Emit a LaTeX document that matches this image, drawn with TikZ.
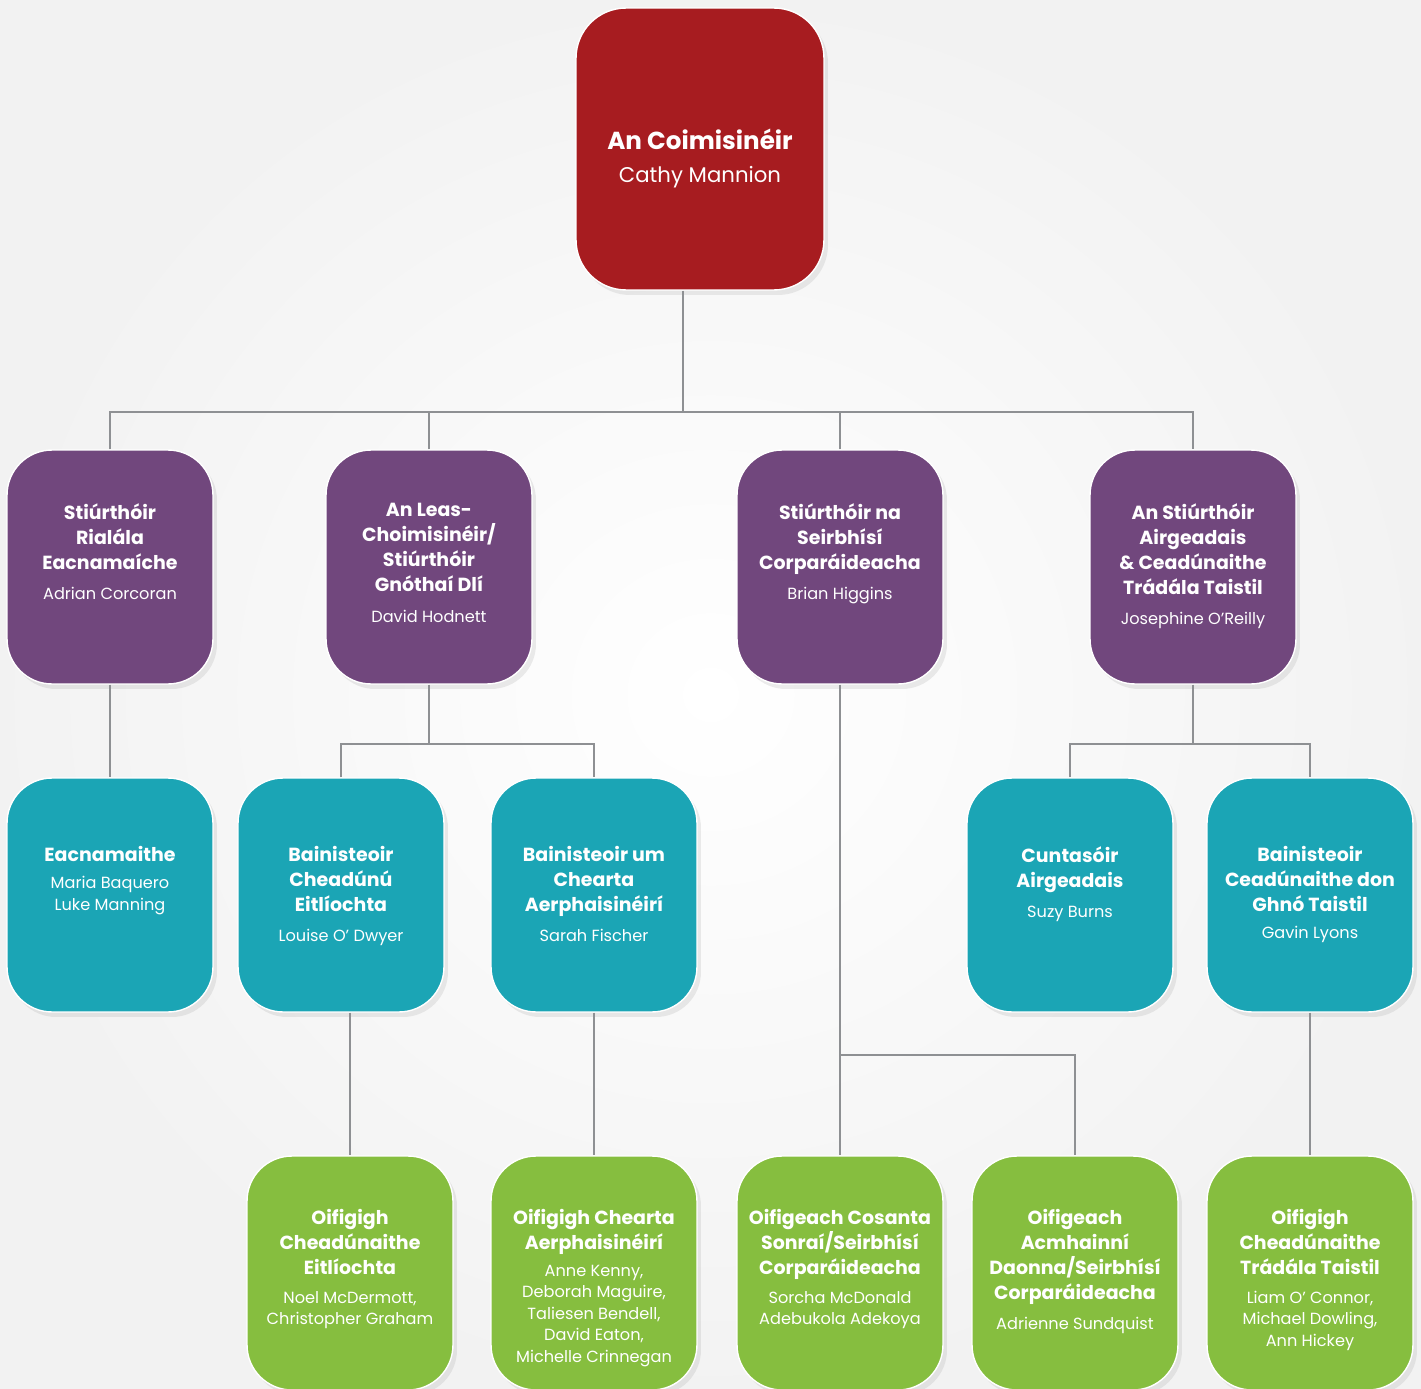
\documentclass[tikz,border=0pt]{standalone}
\usepackage{fontspec}
\setmainfont{Poppins}
\usetikzlibrary{positioning, shadows}

\definecolor{commred}{HTML}{A71C20}
\definecolor{dirpurple}{HTML}{71477D}
\definecolor{mgrteal}{HTML}{1BA5B5}
\definecolor{offgreen}{HTML}{86BE3F}
\definecolor{linegray}{HTML}{8E9093}

\newcommand{\who}[1]{{\fontsize{9.2}{11.5}\selectfont\mdseries #1}}

\begin{document}
\begin{tikzpicture}[x=0.02cm, y=-0.02cm]
		\tikzstyle{card} = [rectangle, draw=white, line width=0.8pt, minimum width=4.12cm, minimum height=4.68cm, rounded corners=0.9cm, drop shadow={shadow xshift=0.08cm, shadow yshift=-0.1cm, opacity=0.15}]
		\tikzstyle{commbox} = [card, fill=commred, minimum width=4.96cm, minimum height=5.64cm, rounded corners=1.0cm]
		\tikzstyle{dirbox} = [card, fill=dirpurple]
		\tikzstyle{mgrbox} = [card, fill=mgrteal]
		\tikzstyle{offbox} = [card, fill=offgreen]
		\tikzstyle{caption} = [align=center, text=white, inner sep=0pt, font=\fontsize{10.8}{14.2}\selectfont\bfseries]
		\tikzstyle{line} = [draw=linegray, line width=1.1pt]
		
		\useasboundingbox (0, 0) rectangle (1421, 1389);
		\shade[inner color=white, outer color=black!5] (0, 0) rectangle (1421, 1389);
		
		\node[commbox]	at (700, 149)	(c0)	{};
		
		\node[dirbox]	at (110, 567)	(d1)	{};
		\node[dirbox]	at (429, 567)	(d2)	{};
		\node[dirbox]	at (840, 567)	(d3)	{};
		\node[dirbox]	at (1193, 567)	(d4)	{};
		
		\node[mgrbox]	at (110, 895)	(m1)	{};
		\node[mgrbox]	at (341, 895)	(m2)	{};
		\node[mgrbox]	at (594, 895)	(m3)	{};
		\node[mgrbox]	at (1070, 895)	(m4)	{};
		\node[mgrbox]	at (1310, 895)	(m5)	{};
		
		\node[offbox]	at (350, 1273)	(o1)	{};
		\node[offbox]	at (594, 1273)	(o2)	{};
		\node[offbox]	at (840, 1273)	(o3)	{};
		\node[offbox]	at (1075, 1273)	(o4)	{};
		\node[offbox]	at (1310, 1273)	(o5)	{};
		
		\node[caption, font=\fontsize{14}{17}\selectfont\bfseries, below=2.42cm of c0.north] (c0t) {An Coimisinéir\\[2pt]{\fontsize{12.1}{15}\selectfont\mdseries Cathy Mannion}};
		
		\node[caption, below=1.08cm of d1.north] (d1t) {Stiúrthóir\\Rialála\\Eacnamaíche\\[3pt]\who{Adrian Corcoran}};
		\node[caption, below=1.08cm of d2.north] (d2t) {An Leas-\\Choimisinéir/\\Stiúrthóir\\Gnóthaí Dlí\\[3pt]\who{David Hodnett}};
		\node[caption, below=1.08cm of d3.north] (d3t) {Stiúrthóir na\\Seirbhísí\\Corparáideacha\\[3pt]\who{Brian Higgins}};
		\node[caption, below=1.08cm of d4.north] (d4t) {An Stiúrthóir\\Airgeadais\\\& Ceadúnaithe\\Trádála Taistil\\[3pt]\who{Josephine O'Reilly}};
		
		\node[caption, below=1.38cm of m1.north] (m1t) {Eacnamaithe\\[1pt]\who{Maria Baquero}\\[-2pt]\who{Luke Manning}};
		\node[caption, below=1.38cm of m2.north] (m2t) {Bainisteoir\\Cheadúnú\\Eitlíochta\\[3pt]\who{Louise O' Dwyer}};
		\node[caption, below=1.38cm of m3.north] (m3t) {Bainisteoir um\\Chearta\\Aerphaisinéirí\\[3pt]\who{Sarah Fischer}};
		\node[caption, below=1.38cm of m4.north] (m4t) {Cuntasóir\\Airgeadais\\[3pt]\who{Suzy Burns}};
		\node[caption, below=1.38cm of m5.north] (m5t) {Bainisteoir\\Ceadúnaithe don\\Ghnó Taistil\\[1pt]\who{Gavin Lyons}};
		
		\node[caption, below=1.08cm of o1.north] (o1t) {Oifigigh\\Cheadúnaithe\\Eitlíochta\\[2pt]\who{Noel McDermott,}\\[-2pt]\who{Christopher Graham}};
		\node[caption, below=1.08cm of o2.north] (o2t) {Oifigigh Chearta\\Aerphaisinéirí\\[1pt]\who{Anne Kenny,}\\[-2pt]\who{Deborah Maguire,}\\[-2pt]\who{Taliesen Bendell,}\\[-2pt]\who{David Eaton,}\\[-2pt]\who{Michelle Crinnegan}};
		\node[caption, below=1.08cm of o3.north] (o3t) {Oifigeach Cosanta\\Sonraí/Seirbhísí\\Corparáideacha\\[2pt]\who{Sorcha McDonald}\\[-2pt]\who{Adebukola Adekoya}};
		\node[caption, below=1.08cm of o4.north] (o4t) {Oifigeach\\Acmhainní\\Daonna/Seirbhísí\\Corparáideacha\\[3pt]\who{Adrienne Sundquist}};
		\node[caption, below=1.08cm of o5.north] (o5t) {Oifigigh\\Cheadúnaithe\\Trádála Taistil\\[2pt]\who{Liam O' Connor,}\\[-2pt]\who{Michael Dowling,}\\[-2pt]\who{Ann Hickey}};
		
		\coordinate (hub) at (683, 412);
		\coordinate (j3) at (840, 1055);
		
		\draw [line, line width=1.6pt] (c0.south -| hub) -- (hub);
		\draw [line] (d1.north) |- (hub) -| (d4.north);
		\draw [line] (d2.north) -- (d2.north |- hub);
		\draw [line] (d3.north) -- (d3.north |- hub);
		
		\draw [line] (d1) -- (m1);
		\draw [line] (d2.south) -- ++(0, 59) coordinate (j2);
		\draw [line] (m2.north) |- (j2) -| (m3.north);
		\draw [line] (d4.south) -- ++(0, 59) coordinate (j4);
		\draw [line] (m4.north) |- (j4) -| (m5.north);
		
		\draw [line] (d3) -- (o3);
		\draw [line] (j3) -| (o4.north);
		\draw [line] (o1.north |- m2.south) -- (o1.north);
		\draw [line] (m3) -- (o2);
		\draw [line] (m5) -- (o5);
	\end{tikzpicture}
\end{document}
